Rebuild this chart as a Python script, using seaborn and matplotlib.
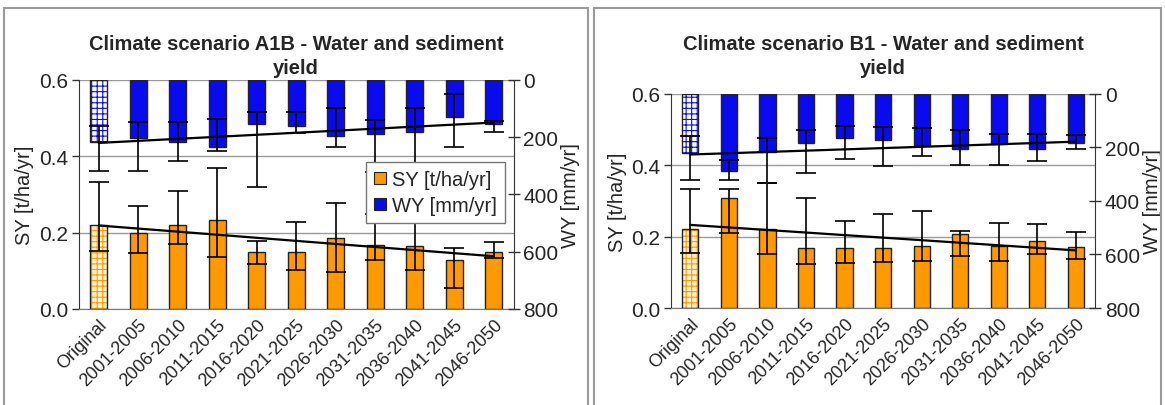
import matplotlib
matplotlib.use('Agg')
import matplotlib.pyplot as plt
from matplotlib.patches import Rectangle
import numpy as np
import pandas as pd
import seaborn as sns

periods = ['Original', '2001-2005', '2006-2010', '2011-2015', '2016-2020', '2021-2025',
           '2026-2030', '2031-2035', '2036-2040', '2041-2045', '2046-2050']

# Scenario A1B
a1b_sy = [0.220, 0.198, 0.220, 0.233, 0.148, 0.148, 0.185, 0.168, 0.164, 0.129, 0.150]
a1b_sy_lo = [0.151, 0.146, 0.170, 0.135, 0.119, 0.103, 0.096, 0.129, 0.102, 0.056, 0.134]
a1b_sy_hi = [0.332, 0.271, 0.310, 0.369, 0.177, 0.229, 0.277, 0.250, 0.229, 0.161, 0.176]
a1b_wy = [218, 203, 215, 233, 154, 160, 195, 189, 180, 128, 152]
a1b_wy_lo = [160, 146, 148, 136, 111, 111, 98, 139, 99, 49, 142]
a1b_wy_hi = [317, 317, 282, 247, 373, 186, 233, 320, 330, 233, 180]

# Scenario B1
b1_sy = [0.220, 0.309, 0.220, 0.168, 0.168, 0.169, 0.175, 0.208, 0.174, 0.187, 0.171]
b1_sy_lo = [0.154, 0.211, 0.152, 0.124, 0.127, 0.129, 0.133, 0.147, 0.133, 0.152, 0.138]
b1_sy_hi = [0.332, 0.332, 0.351, 0.309, 0.243, 0.262, 0.273, 0.215, 0.238, 0.236, 0.213]
b1_wy = [221, 290, 218, 183, 165, 174, 193, 208, 189, 208, 183]
b1_wy_lo = [158, 249, 165, 137, 121, 124, 128, 137, 152, 152, 153]
b1_wy_hi = [321, 321, 332, 295, 243, 271, 234, 265, 265, 251, 208]

ORANGE = '#FF9900'
BLUE = '#0A0AF0'
EDGE = '#222222'

sns.set_style('white')
plt.rcParams['font.family'] = ['Liberation Sans', 'DejaVu Sans']
plt.rcParams['hatch.linewidth'] = 0.8


def draw_panel(ax, title, sy, sy_lo, sy_hi, wy, wy_lo, wy_hi, title_pad, legend=False):
    df = pd.DataFrame({'period': periods, 'SY': sy, 'WY': wy})
    x = np.arange(len(periods))
    sy = np.array(sy)
    wy = np.array(wy)

    # sediment yield bars (left axis)
    sns.barplot(data=df, x='period', y='SY', color=ORANGE, saturation=1, width=0.42,
                edgecolor=EDGE, linewidth=1, errorbar=None, ax=ax, zorder=2)
    first = ax.patches[0]
    first.set_facecolor('#FFF3CF')
    first.set_edgecolor(ORANGE)
    first.set_hatch('+++')
    first.set_linewidth(0)
    ax.add_patch(Rectangle((first.get_x(), first.get_y()), first.get_width(), first.get_height(),
                           fill=False, edgecolor=EDGE, lw=1, zorder=2.5))
    ax.errorbar(x, sy, yerr=[sy - np.array(sy_lo), np.array(sy_hi) - sy], fmt='none',
                ecolor='black', elinewidth=1.2, capsize=7, capthick=1.2, zorder=3)
    coef = np.polyfit(x, sy, 1)
    ax.plot(x, np.polyval(coef, x), color='black', lw=1.6, zorder=4)

    ax.set_ylim(0, 0.6)
    ax.set_xlim(-0.5, len(periods) - 0.5)
    ax.set_yticks([0, 0.2, 0.4, 0.6])
    ax.set_yticklabels(['0.0', '0.2', '0.4', '0.6'], fontsize=15)
    ax.yaxis.grid(True, color='#9a9a9a', lw=1)
    ax.set_axisbelow(True)
    ax.set_xticks(x)
    ax.set_xticklabels(periods, rotation=45, ha='right', rotation_mode='anchor', fontsize=13)
    ax.set_xticks(np.arange(-0.5, len(periods)), minor=True)
    ax.tick_params(axis='x', which='major', length=0, pad=5)
    ax.tick_params(axis='x', which='minor', length=5, direction='out', color='#555555', width=1)
    ax.tick_params(axis='y', length=5, direction='out', color='#333333', width=1, pad=3)
    ax.set_xlabel('')
    ax.set_ylabel('SY [t/ha/yr]', fontsize=14.5, labelpad=3)
    ax.spines['top'].set_visible(False)
    ax.spines['right'].set_visible(False)
    ax.spines['left'].set_color('#333333')
    ax.spines['bottom'].set_color('#777777')
    ax.set_title(title, fontsize=14.5, fontweight='bold', linespacing=1.35, pad=title_pad)

    # water yield bars (right axis, inverted)
    ax2 = ax.twinx()
    sns.barplot(data=df, x='period', y='WY', color=BLUE, saturation=1, width=0.42,
                edgecolor=EDGE, linewidth=1, errorbar=None, ax=ax2, zorder=2)
    first = ax2.patches[0]
    first.set_facecolor('white')
    first.set_edgecolor(BLUE)
    first.set_hatch('+++')
    first.set_linewidth(0)
    ax2.add_patch(Rectangle((first.get_x(), first.get_y()), first.get_width(), first.get_height(),
                            fill=False, edgecolor=EDGE, lw=1, zorder=2.5))
    ax2.errorbar(x, wy, yerr=[wy - np.array(wy_lo), np.array(wy_hi) - wy], fmt='none',
                 ecolor='black', elinewidth=1.2, capsize=7, capthick=1.2, zorder=3)
    coef = np.polyfit(x, wy, 1)
    ax2.plot(x, np.polyval(coef, x), color='black', lw=1.6, zorder=4)
    ax2.set_ylim(800, 0)
    ax2.set_xlim(-0.5, len(periods) - 0.5)
    ax2.set_yticks([0, 200, 400, 600, 800])
    ax2.set_yticklabels(['0', '200', '400', '600', '800'], fontsize=15)
    ax2.tick_params(axis='y', length=8, direction='inout', color='#333333', width=1, pad=3)
    ax2.set_xlabel('')
    ax2.set_ylabel('WY [mm/yr]', fontsize=14.5, labelpad=2)
    for s in ['top', 'left', 'bottom']:
        ax2.spines[s].set_visible(False)
    ax2.spines['right'].set_color('#333333')

    if legend:
        handles = [Rectangle((0, 0), 1, 1, facecolor=ORANGE, edgecolor=EDGE, lw=0.8),
                   Rectangle((0, 0), 1, 1, facecolor=BLUE, edgecolor=EDGE, lw=0.8)]
        leg = ax2.legend(handles, ['SY [t/ha/yr]', 'WY [mm/yr]'], loc='upper right',
                         bbox_to_anchor=(0.98, 0.642), borderaxespad=0, fontsize=14.5,
                         frameon=True, fancybox=False, framealpha=1, edgecolor='#777777',
                         handlelength=0.6, handleheight=0.6, handletextpad=0.3,
                         borderpad=0.4, labelspacing=0.35)
        leg.set_zorder(10)


fig = plt.figure(figsize=(11.65, 4.06), dpi=100)

# panel frames
fig.add_artist(Rectangle((4 / 1165, -0.02), 584 / 1165, 1.0 - 9 / 406 + 0.02,
                         transform=fig.transFigure, fill=False, edgecolor='#9a9a9a', lw=1.5))
fig.add_artist(Rectangle((594 / 1165, -0.02), 567 / 1165, 1.0 - 9 / 406 + 0.02,
                         transform=fig.transFigure, fill=False, edgecolor='#9a9a9a', lw=1.5))

ax_a = fig.add_axes([0.0678, 0.2365, 0.373, 0.564])
ax_b = fig.add_axes([0.576, 0.2387, 0.364, 0.528])

draw_panel(ax_a, 'Climate scenario A1B - Water and sediment\nyield',
           a1b_sy, a1b_sy_lo, a1b_sy_hi, a1b_wy, a1b_wy_lo, a1b_wy_hi, title_pad=5, legend=True)
draw_panel(ax_b, 'Climate scenario B1 - Water and sediment\nyield',
           b1_sy, b1_sy_lo, b1_sy_hi, b1_wy, b1_wy_lo, b1_wy_hi, title_pad=15)

fig.savefig('out.png', dpi=100)
